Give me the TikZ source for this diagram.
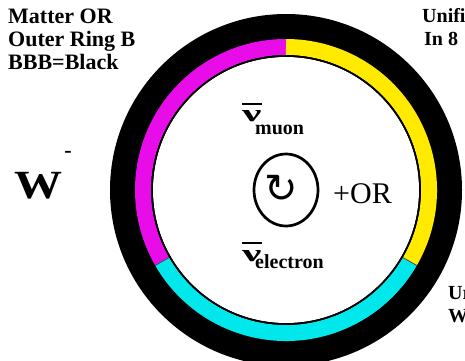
\documentclass[tikz,border=0pt]{standalone}
\usepackage{fontspec}
\usepackage{graphicx}
\setmainfont{Liberation Serif}
\newfontfamily\arrowfont{DejaVu Sans}
\usetikzlibrary{arrows.meta, calc}
\definecolor{ringmag}{RGB}{232,12,232}
\definecolor{ringyel}{RGB}{255,234,0}
\definecolor{ringcyan}{RGB}{0,232,236}
\tikzset{
  sidetext/.style={font=\bfseries\fontsize{22}{22}\selectfont, anchor=base west, inner sep=0pt},
  edgetext/.style={font=\bfseries\fontsize{20}{20}\selectfont, anchor=base west, inner sep=0pt},
  subtext/.style={font=\bfseries\fontsize{20}{20}\selectfont, anchor=base west, inner sep=0pt},
  nutext/.style={font=\bfseries\fontsize{24}{24}\selectfont, anchor=base west, inner sep=0pt}
}
\begin{document}
\begin{tikzpicture}[x=1pt, y=1pt]
    \useasboundingbox (0,0) rectangle (465,360);
    \coordinate (c) at (286,170);
    % Anillo negro exterior
    \fill[black] (c) circle (176);
    \fill[white] (c) circle (133);
    % Tres arcos de color
    \foreach \a/\col in {90/ringmag, 210/ringcyan, 330/ringyel} {
        \draw[\col, line width=16pt]
            ($(c)+(\a:143)$) arc[start angle=\a, end angle=\a+120, radius=143];
    }
    % Separaciones entre arcos
    \foreach \a in {210,330} {
        \draw[black!70, line width=0.8pt] ($(c)+(\a:135)$) -- ($(c)+(\a:151)$);
    }
    % Linea interior fina
    \draw[black, line width=1.6pt] (c) circle (134);
    % Circulo central con flecha
    \draw[black, line width=2.7pt] (c) ellipse [x radius=32, y radius=36];
    \node[font=\arrowfont\fontsize{40}{40}\selectfont, inner sep=0pt] (spin) at (281,171) {↻};
    \node[font=\fontsize{30}{30}\selectfont, anchor=base west, inner sep=0pt] (plusor) at (333,157) {+OR};
    % Antineutrinos
    \node[nutext] (numuon) at (242,239) {\scalebox{1.8}[1]{ν}};
    \draw[line width=2.7pt] ([yshift=17pt]numuon.base west) -- ([yshift=17pt]numuon.base east);
    \node[subtext] (muon) at (255,226) {muon};
    \node[nutext] (nuelec) at (242,99) {\scalebox{1.8}[1]{ν}};
    \draw[line width=2.7pt] ([yshift=18pt]nuelec.base west) -- ([yshift=18pt]nuelec.base east);
    \node[subtext] (elec) at (255,92) {electron};
    % Textos laterales
    \node[sidetext] (t1) at (8,337) {Matter OR};
    \node[sidetext] (t2) at (8,314) {Outer Ring B};
    \node[sidetext] (t3) at (8,291) {BBB=Black};
    \node[edgetext] (r1) at (422,338) {Unifi};
    \node[edgetext] (r2) at (424,315) {In 8};
    \node[edgetext] (r3) at (448,61) {Ur};
    \node[edgetext] (r4) at (448,38) {W};
    % Boson W
    \node[font=\bfseries\fontsize{40}{40}\selectfont, anchor=base west, inner sep=0pt] (wb) at (14,162) {\scalebox{1.2}[1]{W}};
    \node[font=\bfseries\fontsize{22}{22}\selectfont, inner sep=0pt] (wminus) at (68,206) {-};
\end{tikzpicture}
\end{document}
